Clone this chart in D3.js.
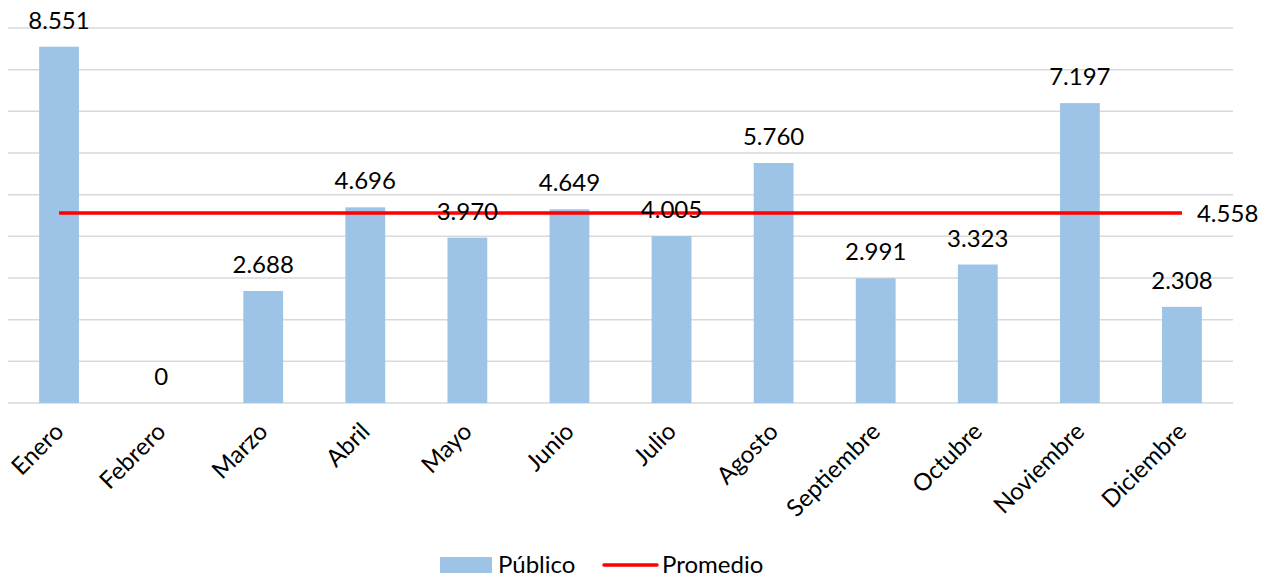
<!DOCTYPE html>
<html>
<head>
<meta charset="utf-8">
<script src="https://cdn.jsdelivr.net/npm/d3@7"></script>
<style>
  body { margin: 0; background: #fff; }
  svg text { font-family: Lato, "Open Sans", sans-serif; fill: #000; }
</style>
</head>
<body>
<svg id="chart" width="1273" height="580"></svg>
<script>
// data
let months = ["Enero", "Febrero", "Marzo", "Abril", "Mayo", "Junio", "Julio",
              "Agosto", "Septiembre", "Octubre", "Noviembre", "Diciembre"]
let publico = [8551, 0, 2688, 4696, 3970, 4649, 4005, 5760, 2991, 3323, 7197, 2308]
let promedio = [4558, 4558, 4558, 4558, 4558, 4558, 4558, 4558, 4558, 4558, 4558, 4558]
let yTicks = [0, 1000, 2000, 3000, 4000, 5000, 6000, 7000, 8000, 9000]

let svg = d3.select("#chart")
let plotLeft = 8, plotRight = 1233, plotTop = 28, plotBottom = 403
let fontSize = 24

let locale = d3.formatLocale({ decimal: ",", thousands: ".", grouping: [3], currency: ["", ""] })
let fmt = locale.format(",d")

let x = d3.scaleBand().domain(months).range([plotLeft, plotRight]).padding(0)
let y = d3.scaleLinear().domain([0, 9000]).range([plotBottom, plotTop])
let barW = x.bandwidth() * 0.39

// gridlines
svg.append("g").selectAll("line")
    .data(yTicks)
    .join("line")
    .attr("x1", plotLeft).attr("x2", plotRight)
    .attr("y1", d => y(d)).attr("y2", d => y(d))
    .attr("stroke", "#d9d9d9")
    .attr("stroke-width", 1.5)

// bars
svg.append("g").selectAll("rect")
    .data(publico)
    .join("rect")
    .attr("x", (d, i) => x(months[i]) + x.bandwidth() / 2 - barW / 2)
    .attr("y", d => y(d))
    .attr("width", barW)
    .attr("height", d => plotBottom - y(d))
    .attr("fill", "#9dc3e6")

// average line
let line = d3.line()
    .x((d, i) => x(months[i]) + x.bandwidth() / 2)
    .y(d => y(d))

svg.append("path")
    .attr("d", line(promedio))
    .attr("fill", "none")
    .attr("stroke", "#ff0000")
    .attr("stroke-width", 3.5)

// bar labels
svg.append("g").selectAll("text")
    .data(publico)
    .join("text")
    .attr("x", (d, i) => x(months[i]) + x.bandwidth() / 2)
    .attr("y", d => y(d) - 18)
    .attr("text-anchor", "middle")
    .attr("font-size", fontSize)
    .text(d => fmt(d))

// average label
let last = promedio.length - 1
svg.append("text")
    .attr("x", x(months[last]) + x.bandwidth() / 2 + 15)
    .attr("y", y(promedio[last]))
    .attr("dy", "0.36em")
    .attr("font-size", fontSize)
    .text(fmt(promedio[last]))

// category labels
svg.append("g").selectAll("text")
    .data(months)
    .join("text")
    .attr("transform", d => "translate(" + (x(d) + x.bandwidth() / 2 + 6) + "," + (plotBottom + 30) + ") rotate(-45)")
    .attr("text-anchor", "end")
    .attr("font-size", fontSize)
    .text(d => d)

// legend
let legend = svg.append("g")
legend.append("rect")
    .attr("x", 440).attr("y", 557)
    .attr("width", 52).attr("height", 16)
    .attr("fill", "#9dc3e6")
legend.append("text")
    .attr("x", 498).attr("y", 573)
    .attr("font-size", fontSize)
    .text("Público")
legend.append("line")
    .attr("x1", 604).attr("x2", 657)
    .attr("y1", 565).attr("y2", 565)
    .attr("stroke", "#ff0000")
    .attr("stroke-width", 3.5)
    .attr("stroke-linecap", "round")
legend.append("text")
    .attr("x", 662).attr("y", 573)
    .attr("font-size", fontSize)
    .text("Promedio")
</script>
</body>
</html>
